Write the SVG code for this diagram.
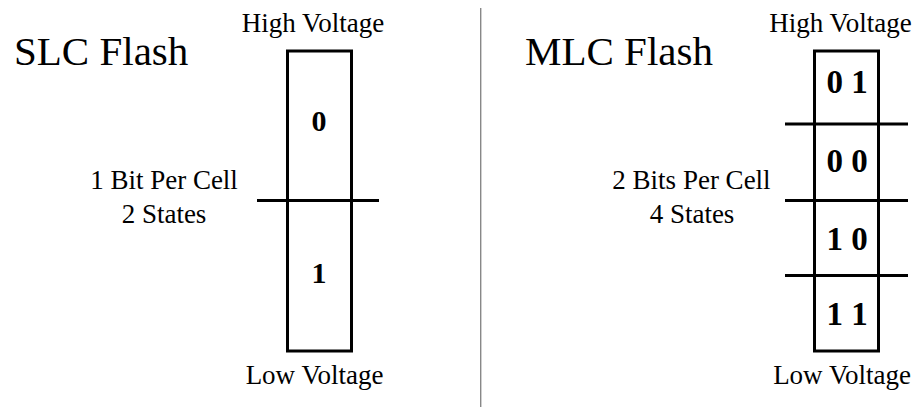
<svg xmlns="http://www.w3.org/2000/svg" width="919" height="407" viewBox="0 0 919 407">
<rect width="919" height="407" fill="#fff"/>
<line x1="480.7" y1="8" x2="480.7" y2="407" stroke="#888" stroke-width="1.4"/>
<g id="slc" font-family="'Liberation Serif', serif" fill="#000">
<text font-size="41" x="14" y="65">SLC Flash</text>
<text font-size="27" text-anchor="middle" x="313" y="32">High Voltage</text>
<rect x="287.5" y="51" width="64" height="300" fill="none" stroke="#000" stroke-width="3"/>
<line x1="257" y1="200.5" x2="379" y2="200.5" stroke="#000" stroke-width="3"/>
<text font-size="30" font-weight="bold" text-anchor="middle" x="319" y="131">0</text>
<text font-size="30" font-weight="bold" text-anchor="middle" x="319" y="283">1</text>
<text font-size="27" text-anchor="middle" x="164" y="189">1 Bit Per Cell</text>
<text font-size="27" text-anchor="middle" x="164" y="223">2 States</text>
<text font-size="27" text-anchor="middle" x="314.5" y="384">Low Voltage</text>
</g>
<g id="mlc" font-family="'Liberation Serif', serif" fill="#000">
<text font-size="41" x="525" y="65">MLC Flash</text>
<text font-size="27" text-anchor="middle" x="840.5" y="32">High Voltage</text>
<rect x="814.5" y="51" width="64" height="300" fill="none" stroke="#000" stroke-width="3"/>
<line x1="785" y1="124" x2="908" y2="124" stroke="#000" stroke-width="3"/>
<line x1="785" y1="200.5" x2="908" y2="200.5" stroke="#000" stroke-width="3"/>
<line x1="785" y1="275.5" x2="908" y2="275.5" stroke="#000" stroke-width="3"/>
<text font-size="33" font-weight="bold" text-anchor="middle" x="847" y="92.5">0 1</text>
<text font-size="33" font-weight="bold" text-anchor="middle" x="847" y="172">0 0</text>
<text font-size="33" font-weight="bold" text-anchor="middle" x="847" y="250">1 0</text>
<text font-size="33" font-weight="bold" text-anchor="middle" x="847" y="325">1 1</text>
<text font-size="27" text-anchor="middle" x="691.5" y="189">2 Bits Per Cell</text>
<text font-size="27" text-anchor="middle" x="692" y="223">4 States</text>
<text font-size="27" text-anchor="middle" x="842" y="384">Low Voltage</text>
</g>
</svg>
